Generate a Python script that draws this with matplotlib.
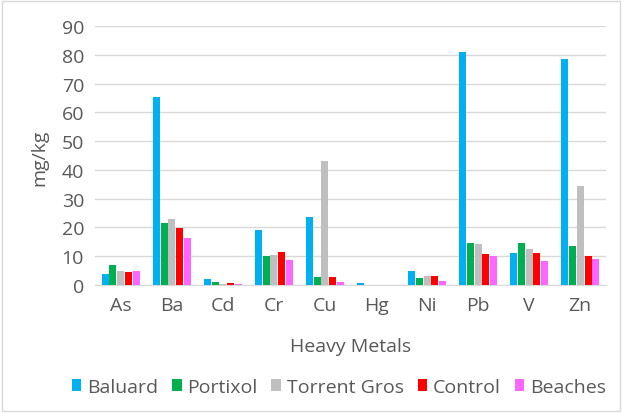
import numpy as np
import matplotlib.pyplot as plt
from matplotlib.patches import Rectangle

metals = ['As', 'Ba', 'Cd', 'Cr', 'Cu', 'Hg', 'Ni', 'Pb', 'V', 'Zn']
baluard = [3.8, 65.3, 2.1, 19.2, 23.8, 0.6, 4.9, 81.1, 11.3, 78.4]
portixol = [7.0, 21.4, 1.0, 10.1, 2.7, 0.0, 2.4, 14.7, 14.7, 13.7]
torrent_gros = [4.9, 23.1, 0.5, 10.6, 43.2, 0.0, 3.0, 14.1, 12.5, 34.5]
control = [4.4, 19.7, 0.6, 11.6, 2.7, 0.0, 3.0, 10.9, 11.0, 10.1]
beaches = [5.0, 16.2, 0.5, 8.6, 1.1, 0.0, 1.5, 10.0, 8.3, 8.9]

series = [('Baluard', baluard, '#00B0F0'),
          ('Portixol', portixol, '#00B050'),
          ('Torrent Gros', torrent_gros, '#BFBFBF'),
          ('Control', control, '#FF0000'),
          ('Beaches', beaches, '#FF66FF')]

plt.rcParams['font.family'] = ['Open Sans', 'DejaVu Sans']
txt = '#595959'
fs = 14

fig = plt.figure(figsize=(6.22, 4.14), dpi=100)
ax = fig.add_axes([0.153, 0.309, 0.821, 0.626])

x = np.arange(len(metals))
w = 0.137
step = 0.152
for i, (name, vals, col) in enumerate(series):
    ax.bar(x + (i - 2) * step, vals, w, color=col, label=name, zorder=3)

ax.set_xlim(-0.5, len(metals) - 0.5)
ax.set_ylim(0, 90)
ax.set_yticks(range(0, 91, 10))
ax.set_xticks(x)
ax.set_xticklabels(metals)
ax.yaxis.grid(True, color='#D9D9D9', linewidth=1, zorder=0)
for s in ['top', 'right', 'left']:
    ax.spines[s].set_visible(False)
ax.spines['bottom'].set_color('#D9D9D9')
ax.tick_params(length=0, labelsize=fs, colors=txt, pad=8)
ax.tick_params(axis='x', pad=8)

fig.text(0.064, 0.62, 'mg/kg', rotation=90, ha='center', va='center', fontsize=fs, color=txt)
fig.text(0.563, 0.162, 'Heavy Metals', ha='center', va='center', fontsize=fs, color=txt)

leg = fig.legend(loc='center', bbox_to_anchor=(0.545, 0.063), ncol=5, frameon=False,
                 fontsize=fs, handlelength=0.5, handleheight=0.5,
                 columnspacing=0.7, handletextpad=0.3)
for t in leg.get_texts():
    t.set_color(txt)

fig.patches.append(Rectangle((0.003, 0.004), 0.994, 0.99, transform=fig.transFigure,
                             fill=False, edgecolor='#D9D9D9', linewidth=1))

fig.savefig('out.png', dpi=100)
